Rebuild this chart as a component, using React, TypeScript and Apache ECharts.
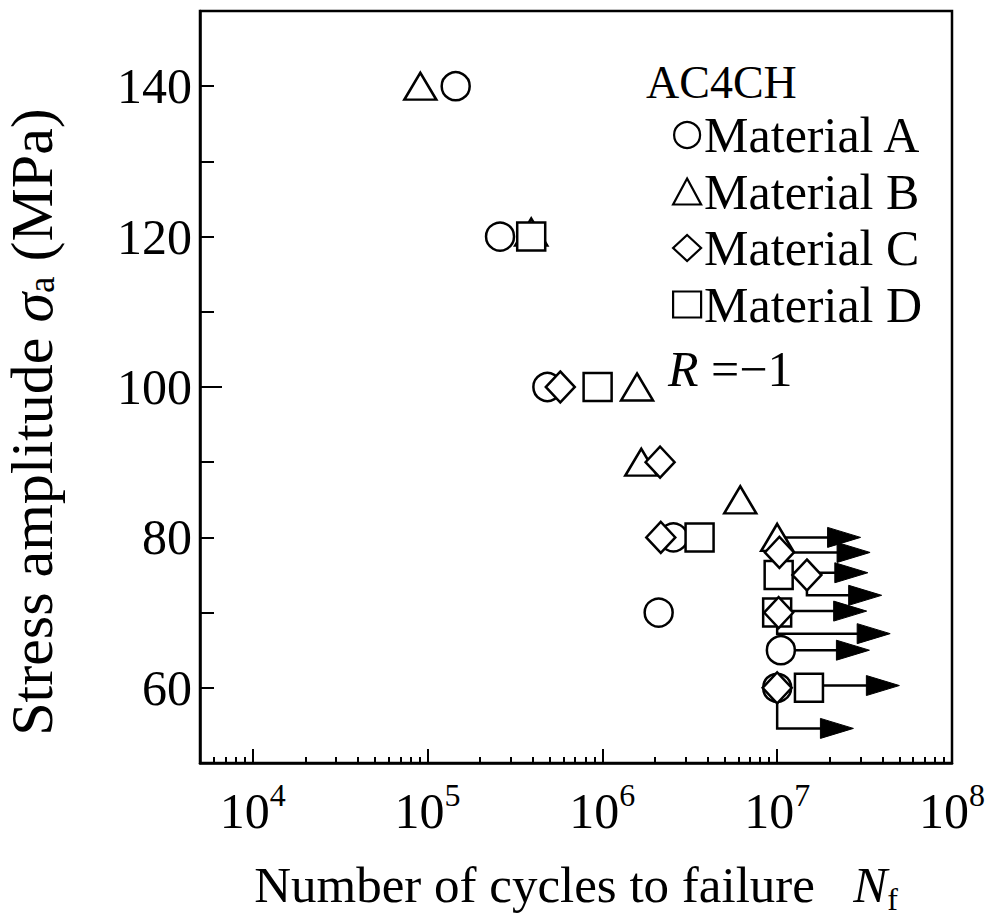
import React, { useEffect, useRef } from "react";
import * as echarts from "echarts";

// ---- Data (N = cycles to failure, S = stress amplitude MPa) ----
// Material A (circle)
const materialA_N = [1.45e5, 2.6e5, 4.85e5, 2.55e6, 2.1e6, 1.05e7, 1.0e7];
const materialA_S = [140, 120, 100, 80, 70, 65, 60];
// Material B (triangle)
const materialB_N = [9.1e4, 3.92e5, 1.58e6, 1.67e6, 6.15e6, 1.0e7];
const materialB_S = [140, 120.6, 100, 90, 85, 80];
// Material C (diamond)
const materialC_N = [5.75e5, 2.14e6, 2.16e6, 1.03e7, 1.48e7, 1.02e7, 1.0e7];
const materialC_S = [100, 90, 80, 78, 75, 70, 60];
// Material D (square)
const materialD_N = [3.92e5, 9.4e5, 3.6e6, 1.02e7, 1.0e7, 1.52e7];
const materialD_S = [120, 100, 80, 75, 70, 60];

// Run-out arrows: from (startN, startS) to arrow tip (endN, endS)
const runoutStartN = [1.0e7, 1.03e7, 1.02e7, 1.48e7, 1.02e7, 1.0e7, 1.05e7, 1.52e7, 1.0e7];
const runoutStartS = [80, 78, 75.3, 75, 70.2, 70, 65, 60.3, 60];
const runoutEndN = [3.0e7, 3.4e7, 3.3e7, 3.96e7, 3.25e7, 4.43e7, 3.37e7, 5.0e7, 2.73e7];
const runoutEndS = [80, 78, 75.3, 72.3, 70.2, 67.2, 65, 60.3, 54.6];

// Axis ticks
const xMajorTicks = [1e4, 1e5, 1e6, 1e7, 1e8];
const xMinorTicks = [
  6e3, 7e3, 8e3, 9e3,
  2e4, 3e4, 4e4, 5e4, 6e4, 7e4, 8e4, 9e4,
  2e5, 3e5, 4e5, 5e5, 6e5, 7e5, 8e5, 9e5,
  2e6, 3e6, 4e6, 5e6, 6e6, 7e6, 8e6, 9e6,
  2e7, 3e7, 4e7, 5e7, 6e7, 7e7, 8e7, 9e7,
];
const yLabels = [60, 80, 100, 120, 140];

const legendNames = ["Material A", "Material B", "Material C", "Material D"];

const FONT = '"Liberation Serif", "Times New Roman", serif';

function pairs(ns: number[], ss: number[]) {
  return ns.map((n, i) => [n, ss[i]]);
}

export default function App() {
  const ref = useRef<HTMLDivElement>(null);
  useEffect(() => {
    document.body.style.margin = "0";
    const chart = echarts.init(ref.current!, null, { renderer: "svg" });
    const markerStyle = { color: "#fff", borderColor: "#000", borderWidth: 2.5, opacity: 1 };
    const option: any = {
      animation: false,
      grid: {
        left: 200,
        right: 38,
        top: 11,
        bottom: 155,
        containLabel: false,
        outerBoundsMode: "none",
        show: true,
        borderColor: "#000",
        borderWidth: 2.5,
        backgroundColor: "transparent",
      },
      xAxis: [
        {
          type: "log",
          logBase: 10,
          min: 5000,
          max: 1e8,
          position: "bottom",
          name: "Number of cycles to failure   {i|N}{sub|f}",
          nameLocation: "middle",
          nameGap: 92,
          nameTextStyle: {
            fontFamily: FONT,
            fontSize: 51,
            color: "#000",
            lineHeight: 60,
            rich: {
              i: { fontFamily: FONT, fontSize: 51, fontStyle: "italic", color: "#000", lineHeight: 60 },
              sub: { fontFamily: FONT, fontSize: 32, color: "#000", verticalAlign: "bottom", lineHeight: 30 },
            },
          },
          axisLine: { show: true, lineStyle: { color: "#000", width: 2.5 } },
          axisTick: { show: true, inside: true, length: 14, customValues: xMajorTicks, lineStyle: { color: "#000", width: 2 } },
          axisLabel: {
            customValues: xMajorTicks,
            margin: 16,
            formatter: (v: number) => "{n|10}{s|" + Math.round(Math.log10(v)) + "}",
            rich: {
              n: { fontFamily: FONT, fontSize: 50, color: "#000", lineHeight: 64 },
              s: { fontFamily: FONT, fontSize: 32, color: "#000", lineHeight: 28, verticalAlign: "top" },
            },
          },
          splitLine: { show: false },
          minorTick: { show: false },
        },
        {
          type: "log",
          logBase: 10,
          min: 5000,
          max: 1e8,
          position: "bottom",
          axisLine: { show: false },
          axisTick: { show: true, inside: true, length: 6, customValues: xMinorTicks, lineStyle: { color: "#000", width: 2 } },
          axisLabel: { show: false },
          splitLine: { show: false },
        },
      ],
      yAxis: [
        {
          type: "value",
          min: 50,
          max: 150,
          interval: 10,
          position: "left",
          name: "Stress amplitude {i|σ}{sub|a} (MPa)",
          nameLocation: "middle",
          nameRotate: 90,
          nameGap: 140,
          nameTextStyle: {
            fontFamily: FONT,
            fontSize: 60,
            color: "#000",
            lineHeight: 56,
            padding: [0, 70, 0, 0],
            rich: {
              i: { fontFamily: FONT, fontSize: 60, fontStyle: "italic", color: "#000", lineHeight: 56 },
              sub: { fontFamily: FONT, fontSize: 37, color: "#000", verticalAlign: "bottom", lineHeight: 18 },
            },
          },
          axisLine: { show: true, lineStyle: { color: "#000", width: 2.5 } },
          axisTick: { show: true, inside: true, length: 14, lineStyle: { color: "#000", width: 2 } },
          axisLabel: {
            margin: 8,
            fontFamily: FONT,
            fontSize: 50,
            color: "#000",
            formatter: (v: number) => (yLabels.indexOf(v) >= 0 ? String(v) : ""),
          },
          splitLine: { show: false },
        },
        {
          type: "value",
          min: 50,
          max: 150,
          interval: 10,
          position: "left",
          axisLine: { show: false },
          axisTick: { show: true, inside: true, length: 22, customValues: [100], lineStyle: { color: "#000", width: 2 } },
          axisLabel: { show: false },
          splitLine: { show: false },
        },
      ],
      legend: {
        data: legendNames,
        orient: "vertical",
        left: 672,
        top: 110,
        padding: 0,
        itemWidth: 28,
        itemHeight: 26,
        itemGap: 6.5,
        selectedMode: false,
        itemStyle: { color: "#fff", borderColor: "#000", borderWidth: 2.2, opacity: 1 },
        textStyle: { fontFamily: FONT, fontSize: 50, color: "#000", lineHeight: 50, padding: [0, 0, 0, -2] },
      },
      graphic: [
        {
          type: "text",
          x: 646,
          y: 82.5,
          style: {
            text: "AC4CH",
            font: `46px ${FONT}`,
            fill: "#000",
            align: "left",
            verticalAlign: "middle",
          },
        },
        {
          type: "text",
          x: 668,
          y: 368.5,
          style: {
            text: "{r|R} =−1",
            font: `50px ${FONT}`,
            fill: "#000",
            align: "left",
            verticalAlign: "middle",
            rich: {
              r: { fontFamily: FONT, fontSize: 50, fontStyle: "italic", fill: "#000" },
            },
          },
        },
      ],
      series: [
        {
          type: "custom",
          name: "runout",
          z: 1,
          xAxisIndex: 0,
          yAxisIndex: 0,
          encode: { x: [0, 2], y: [1, 3] },
          data: runoutStartN.map((n, i) => [n, runoutStartS[i], runoutEndN[i], runoutEndS[i]]),
          renderItem: (params: any, api: any) => {
            const sN = api.value(0);
            const sS = api.value(1);
            const eN = api.value(2);
            const eS = api.value(3);
            const p0 = api.coord([sN, sS]);
            const pc = api.coord([sN, eS]);
            const p1 = api.coord([eN, eS]);
            const head = 33;
            const half = 10;
            const lineEnd = [p1[0] - head + 2, p1[1]];
            const pts = sS !== eS ? [p0, pc, lineEnd] : [p0, lineEnd];
            return {
              type: "group",
              children: [
                {
                  type: "polyline",
                  shape: { points: pts },
                  style: { stroke: "#000", lineWidth: 2.5, fill: null },
                },
                {
                  type: "polygon",
                  shape: {
                    points: [
                      [p1[0], p1[1]],
                      [p1[0] - head, p1[1] - half],
                      [p1[0] - head, p1[1] + half],
                    ],
                  },
                  style: { fill: "#000", stroke: "#000", lineWidth: 1 },
                },
              ],
            };
          },
        },
        {
          type: "scatter",
          name: "Material A",
          symbol: "circle",
          symbolSize: 28,
          itemStyle: markerStyle,
          data: pairs(materialA_N, materialA_S),
        },
        {
          type: "scatter",
          name: "Material B",
          symbol: "triangle",
          symbolSize: [32, 27],
          itemStyle: markerStyle,
          data: pairs(materialB_N, materialB_S),
        },
        {
          type: "scatter",
          name: "Material D",
          symbol: "rect",
          symbolSize: 28,
          itemStyle: markerStyle,
          data: pairs(materialD_N, materialD_S),
        },
        {
          type: "scatter",
          name: "Material C",
          symbol: "diamond",
          symbolSize: [29, 31],
          itemStyle: markerStyle,
          data: pairs(materialC_N, materialC_S),
        },
      ],
    };
    chart.setOption(option);
    return () => chart.dispose();
  }, []);
  return <div ref={ref} style={{ width: 990, height: 918 }} />;
}
